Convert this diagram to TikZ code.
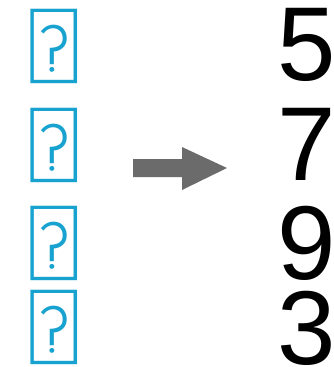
\documentclass[tikz,border=0pt]{standalone}
\usepackage{fontspec}
\setmainfont{Liberation Sans}
\newfontfamily\sinhalafont[Script=Sinhala]{Abhaya Libre}
\definecolor{glyphblue}{HTML}{17A2D0}
\definecolor{arrowgray}{HTML}{6B6B6B}
\begin{document}
\begin{tikzpicture}[x=1pt,y=-1pt,
  lith/.style={text=glyphblue,inner sep=0pt,font=\sinhalafont\fontsize{90}{90}\selectfont},
  digit/.style={text=black,inner sep=0pt,font=\fontsize{105}{105}\selectfont}]
\useasboundingbox (0,0) rectangle (334,367);
\node[lith] (l5) at (54,46) {^^^^0deb};
\node[lith] (l7) at (54,145) {^^^^0ded};
\node[lith] (l9) at (54,243) {^^^^0def};
\node[lith] (l3) at (54,327) {^^^^0de9};
\node[digit] (d5) at (307,45) {5};
\node[digit] (d7) at (307,144) {7};
\node[digit] (d9) at (307,243) {9};
\node[digit] (d3) at (307,328) {3};
\fill[arrowgray] (133,159) -- (182,159) -- (182,147) -- (227,168) -- (182,190) -- (182,177) -- (133,177) -- cycle;
\end{tikzpicture}
\end{document}
